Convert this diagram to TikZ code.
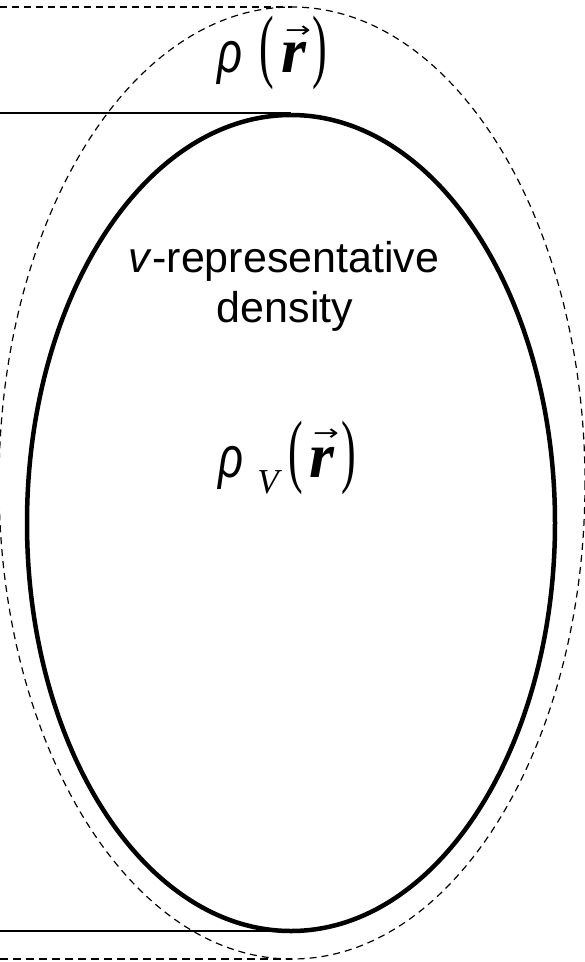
\documentclass[tikz,border=0pt]{standalone}
\usepackage{fontspec}
\usepackage{graphicx}
\setmainfont{Liberation Serif}
\newfontfamily\sansfont{Liberation Sans}
\newfontfamily\greekfont{Liberation Sans}
\newfontfamily\arrowfont{DejaVu Sans}

\begin{document}
\begin{tikzpicture}[x=1pt,y=-1pt,
  bold ring/.style={line width=4.5pt},
  dash ring/.style={line width=1.2pt,dash pattern=on 7pt off 5pt},
  rule/.style={line width=1.2pt},
  heavy dash/.style={line width=2.6pt,dash pattern=on 8pt off 5pt},
  glyph/.style={anchor=base,inner sep=0pt,outer sep=0pt},
  caption/.style={glyph,font=\sansfont\fontsize{43}{43}\selectfont},
  rhotext/.style={glyph,font=\greekfont\itshape\fontsize{58}{58}\selectfont,xscale=0.75,transform shape},
  paren/.style={glyph,font=\fontsize{44}{44}\selectfont,yscale=1.85,transform shape},
  rvec/.style={glyph,font=\bfseries\itshape\fontsize{64}{64}\selectfont},
  arrowtop/.style={inner sep=0pt,outer sep=0pt,font=\arrowfont\fontsize{22}{22}\selectfont,xscale=1.4,transform shape},
  subV/.style={glyph,font=\itshape\fontsize{35}{35}\selectfont}]
\useasboundingbox (0,0) rectangle (585,962);

% the two density sets
\coordinate (outer) at (292,483);
\coordinate (inner) at (291,523);
\draw[dash ring] (outer) ellipse [x radius=293,y radius=476];
\draw[bold ring] (inner) ellipse [x radius=264,y radius=408];

% tangent rules on the left
\coordinate (outer top) at (292,7);
\coordinate (outer bot) at (292,959);
\coordinate (inner top) at (291,113);
\coordinate (inner bot) at (291,931);
\draw[dash ring] (0,7) -- (outer top);
\draw[heavy dash] (0,959) -- (outer bot);
\draw[rule] (0,113) -- (inner top);
\draw[rule] (0,931) -- (inner bot);

% rho(r) above
\node[rhotext] (rho) at (230,72) {ρ};
\node[paren] (rho lp) at (267,72) {(};
\node[rvec] (rho r) at (294,72) {r};
\node[arrowtop] (rho arr) at (298,32) {→};
\node[paren] (rho rp) at (320,72) {)};

% caption
\node[caption] (vrep) at (284,272) {\textit{v}-representative};
\node[caption] (dens) at (285,322) {density};

% rho_V(r)
\node[rhotext] (rhov) at (231,477) {ρ};
\node[subV] (rhov sub) at (268,493) {V};
\node[paren] (rhov lp) at (296,477) {(};
\node[rvec] (rhov r) at (322,477) {r};
\node[arrowtop] (rhov arr) at (326,435) {→};
\node[paren] (rhov rp) at (349,477) {)};
\end{tikzpicture}
\end{document}
